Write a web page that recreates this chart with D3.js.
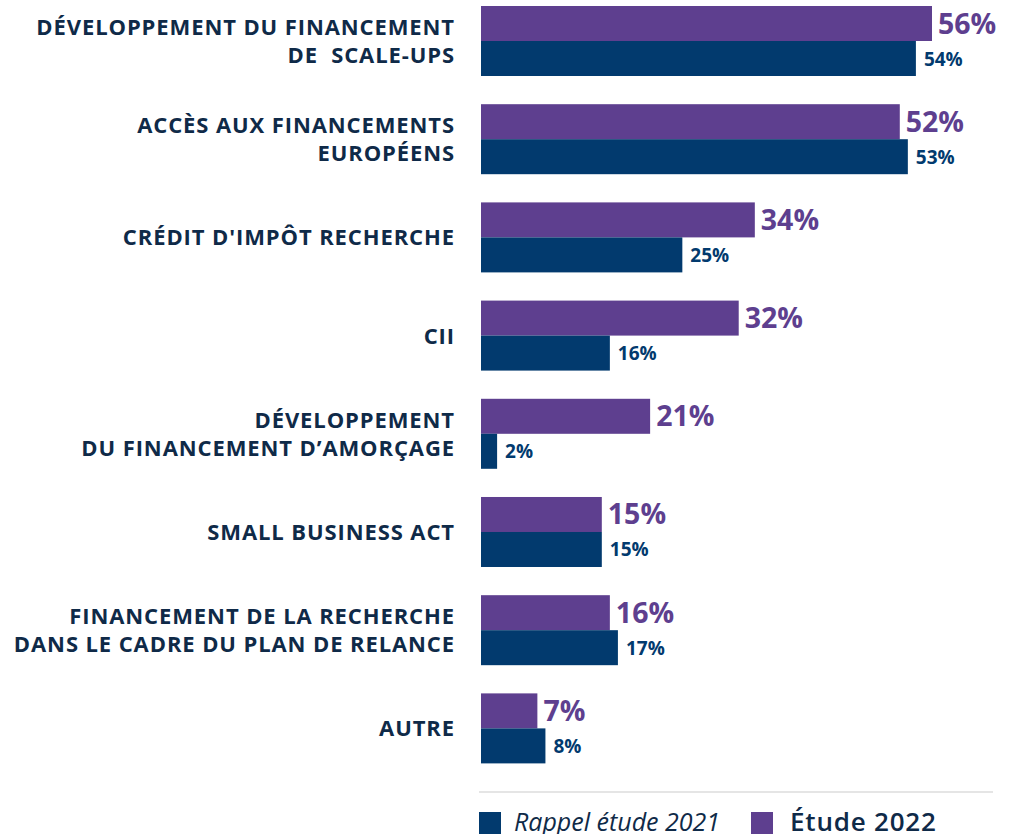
<!DOCTYPE html>
<html><head><meta charset="utf-8">
<script src="https://cdn.jsdelivr.net/npm/d3@7"></script>
<style>body{margin:0;background:#fff;} svg{display:block;}</style>
</head><body>
<svg id="c" width="1023" height="834"></svg>
<script>
const categories = [
  ["DÉVELOPPEMENT DU FINANCEMENT", "DE\u00A0 SCALE-UPS"],
  ["ACCÈS AUX FINANCEMENTS", "EUROPÉENS"],
  ["CRÉDIT D'IMPÔT RECHERCHE"],
  ["CII"],
  ["DÉVELOPPEMENT", "DU FINANCEMENT D’AMORÇAGE"],
  ["SMALL BUSINESS ACT"],
  ["FINANCEMENT DE LA RECHERCHE", "DANS LE CADRE DU PLAN DE RELANCE"],
  ["AUTRE"]
];
const etude2022 = [56, 52, 34, 32, 21, 15, 16, 7];
const rappel2021 = [54, 53, 25, 16, 2, 15, 17, 8];
const seriesNames = ["Rappel étude 2021", "Étude 2022"];

const purple = "#5e3f8f", navy = "#023a6e", labelCol = "#0f2a48";
const svg = d3.select("#c");
const font = "'Open Sans', sans-serif";

const x = d3.scaleLinear().domain([0, 56]).range([481, 932]);
const y = d3.scaleBand().domain(d3.range(categories.length)).range([6, 763.4]).paddingInner(0.287).paddingOuter(0);
const bh = 35;

const g = svg.selectAll("g.grp").data(categories).join("g").attr("class","grp");

g.append("rect").attr("x", x(0)).attr("y", (d,i)=>y(i))
  .attr("width", (d,i)=>x(etude2022[i])-x(0)).attr("height", bh).attr("fill", purple);
g.append("rect").attr("x", x(0)).attr("y", (d,i)=>y(i)+bh)
  .attr("width", (d,i)=>x(rappel2021[i])-x(0)).attr("height", bh).attr("fill", navy);

g.append("text").attr("x",(d,i)=>x(etude2022[i])+6).attr("y",(d,i)=>y(i)+bh/2+10)
  .attr("font-family", font).attr("font-weight",700).attr("font-size",28.5)
  .attr("fill", purple).text((d,i)=>etude2022[i]+"%");
g.append("text").attr("x",(d,i)=>x(rappel2021[i])+8).attr("y",(d,i)=>y(i)+bh+bh/2+7)
  .attr("font-family", font).attr("font-weight",700).attr("font-size",19)
  .attr("fill", navy).text((d,i)=>rappel2021[i]+"%");

g.each(function(d,i){
  const t = d3.select(this).append("text").attr("text-anchor","end")
    .attr("font-family", font).attr("font-weight",700).attr("font-size",22)
    .attr("letter-spacing", 0.9)
    .attr("fill", labelCol);
  const cy = y(i)+bh;
  const lh = 28;
  d.forEach((line,k)=>{
    t.append("tspan").attr("x",455).attr("y", cy + (k - (d.length-1)/2)*lh + 8).text(line);
  });
});

svg.append("line").attr("x1",479).attr("x2",993).attr("y1",792).attr("y2",792)
  .attr("stroke","#dcdcdc").attr("stroke-width",1.5);

const leg = [{n:seriesNames[0], c:navy, x:479, it:true},{n:seriesNames[1], c:purple, x:751, it:false}];
leg.forEach(l=>{
  svg.append("rect").attr("x",l.x).attr("y",812).attr("width",22).attr("height",22).attr("fill",l.c);
  svg.append("text").attr("x",l.x+(l.it?35:39)).attr("y",831).attr("font-family",font)
    .attr("font-size",l.it?25:26).attr("font-weight", l.it?400:600).attr("font-style", l.it?"italic":"normal")
    .attr("letter-spacing", l.it?0:0.8)
    .attr("fill",labelCol).text(l.n);
});
</script>
</body></html>
